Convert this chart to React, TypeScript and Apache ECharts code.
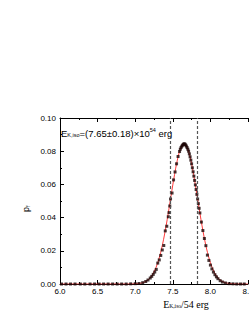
import React, { useEffect, useRef } from "react";
import * as echarts from "echarts";

const curveX = [6.0, 6.1, 6.2, 6.3, 6.4, 6.5, 6.6, 6.7, 6.8, 6.9, 7.0, 7.05, 7.1, 7.15, 7.2, 7.25, 7.3, 7.35, 7.4, 7.45, 7.5, 7.55, 7.6, 7.65, 7.7, 7.75, 7.8, 7.85, 7.9, 7.95, 8.0, 8.05, 8.1, 8.15, 8.2, 8.25, 8.3, 8.4, 8.5];
const curveY = [0, 0, 0, 0, 0, 0, 0, 0, 0, 0, 0.0001, 0.0003, 0.0008, 0.0018, 0.0037, 0.0072, 0.0128, 0.0211, 0.0322, 0.0456, 0.0597, 0.0724, 0.0813, 0.0845, 0.0813, 0.0724, 0.0597, 0.0456, 0.0322, 0.0211, 0.0128, 0.0072, 0.0037, 0.0018, 0.0008, 0.0003, 0.0001, 0, 0];

const pointX = [6.02, 6.08, 6.14, 6.2, 6.27, 6.33, 6.4, 6.46, 6.52, 6.58, 6.64, 6.7, 6.76, 6.82, 6.88, 6.94, 7.0, 7.05, 7.1, 7.14, 7.17, 7.2, 7.22, 7.24, 7.26, 7.28, 7.3, 7.32, 7.34, 7.36, 7.38, 7.4, 7.42, 7.44, 7.45, 7.46, 7.47, 7.49, 7.51, 7.53, 7.55, 7.57, 7.59, 7.6, 7.61, 7.62, 7.63, 7.64, 7.65, 7.66, 7.67, 7.68, 7.69, 7.7, 7.71, 7.72, 7.73, 7.74, 7.75, 7.76, 7.77, 7.78, 7.79, 7.8, 7.81, 7.82, 7.83, 7.84, 7.85, 7.86, 7.88, 7.9, 7.92, 7.94, 7.96, 7.98, 8.0, 8.02, 8.04, 8.06, 8.08, 8.1, 8.13, 8.16, 8.2, 8.25, 8.3, 8.35, 8.4, 8.45];
const pointY = [0, 0, 0, 0, 0, 0, 0, 0, 0, 0, 0, 0, 0, 0, 0, 0.0001, 0.0002, 0.0003, 0.0008, 0.0015, 0.0024, 0.0036, 0.0046, 0.0058, 0.0072, 0.0088, 0.0126, 0.0145, 0.0172, 0.0205, 0.0232, 0.0320, 0.0348, 0.0405, 0.0430, 0.0470, 0.0512, 0.0548, 0.0627, 0.0675, 0.0724, 0.0768, 0.0798, 0.0812, 0.0822, 0.0830, 0.0836, 0.0841, 0.0845, 0.0843, 0.0838, 0.0831, 0.0822, 0.0812, 0.0800, 0.0784, 0.0766, 0.0746, 0.0724, 0.0700, 0.0676, 0.0650, 0.0624, 0.0597, 0.0569, 0.0540, 0.0512, 0.0484, 0.0456, 0.0428, 0.0373, 0.0322, 0.0274, 0.0231, 0.0174, 0.0142, 0.0114, 0.0091, 0.0072, 0.0056, 0.0043, 0.0032, 0.0020, 0.0012, 0.0006, 0.0002, 0.0001, 0, 0, 0];

const xTicks = [6.0, 6.5, 7.0, 7.5, 8.0, 8.5];
const yTicks = [0.0, 0.02, 0.04, 0.06, 0.08, 0.1];
const dashedX = [7.47, 7.83];

export default function App() {
  const ref = useRef<HTMLDivElement>(null);
  useEffect(() => {
    const chart = echarts.init(ref.current!, null, { renderer: "svg" });
    const axisFont = "Liberation Sans";
    chart.setOption({
      animation: false,
      grid: { left: 60, top: 118, right: 1, bottom: 39, containLabel: false, outerBoundsMode: "none" },
      xAxis: [
        {
          type: "value",
          min: 6.0,
          max: 8.5,
          interval: 0.5,
          axisLine: { show: true, lineStyle: { color: "#000", width: 1 } },
          axisTick: { inside: true, length: 4, lineStyle: { color: "#000" } },
          minorTick: { show: true, splitNumber: 2, length: 2, lineStyle: { color: "#000" } },
          splitLine: { show: false },
          axisLabel: {
            color: "#000",
            fontSize: 8,
            fontFamily: axisFont,
            margin: 3,
            hideOverlap: false,
            formatter: (v: number) => (xTicks.includes(v) ? v.toFixed(1) : ""),
          },
        },
        {
          type: "value",
          position: "top",
          min: 6.0,
          max: 8.5,
          interval: 0.5,
          axisLine: { show: true, onZero: false, lineStyle: { color: "#000", width: 1 } },
          axisTick: { inside: true, length: 4, lineStyle: { color: "#000" } },
          minorTick: { show: true, splitNumber: 2, length: 2, lineStyle: { color: "#000" } },
          splitLine: { show: false },
          axisLabel: { show: false },
        },
      ],
      yAxis: {
        type: "value",
        min: 0,
        max: 0.1,
        interval: 0.02,
        axisLine: { show: true, lineStyle: { color: "#000", width: 1 } },
        axisTick: { inside: true, length: 4, lineStyle: { color: "#000" } },
        minorTick: { show: true, splitNumber: 2, length: 2, lineStyle: { color: "#000" } },
        splitLine: { show: false },
        axisLabel: {
          color: "#000",
          fontSize: 8,
          fontFamily: axisFont,
          margin: 4,
          formatter: (v: number) => (yTicks.some((t) => Math.abs(t - v) < 1e-9) ? v.toFixed(2) : ""),
        },
      },
      series: [
        {
          type: "line",
          data: curveX.map((x, i) => [x, curveY[i]]),
          smooth: 0.3,
          showSymbol: false,
          lineStyle: { color: "#ff3b3b", width: 1 },
          z: 2,
          markLine: {
            silent: true,
            symbol: "none",
            label: { show: false },
            lineStyle: { color: "#555", type: [3, 2], width: 1.2 },
            data: dashedX.map((x) => ({ xAxis: x })),
          },
        },
        {
          type: "scatter",
          data: pointX.map((x, i) => [x, pointY[i]]),
          symbol: "rect",
          symbolSize: 3,
          itemStyle: { color: "#1a0505" },
          z: 3,
        },
      ],
      graphic: [
        {
          type: "text",
          x: 61,
          y: 127,
          style: {
            text: "{n|E}{s|K,iso}{n|=(7.65±0.18)×10}{p|54}{n| erg}",
            fill: "#000",
            rich: {
              n: { fontSize: 9.5, fontFamily: axisFont, fill: "#000", verticalAlign: "bottom", lineHeight: 11 },
              s: { fontSize: 5.5, fontFamily: axisFont, fill: "#000", padding: [3, 0, 0, 0], verticalAlign: "bottom", lineHeight: 11 },
              p: { fontSize: 5.5, fontFamily: axisFont, fill: "#000", padding: [0, 0, 5, 0], verticalAlign: "bottom", lineHeight: 11 },
            },
          },
        },
        {
          type: "text",
          x: 21,
          y: 212,
          rotation: Math.PI / 2,
          style: {
            text: "{n|p}{s|f}",
            rich: {
              n: { fontSize: 9, fontFamily: axisFont, fill: "#000", verticalAlign: "bottom" },
              s: { fontSize: 5, fontFamily: axisFont, fill: "#000", padding: [3, 0, 0, 0], verticalAlign: "bottom" },
            },
          },
        },
        {
          type: "text",
          x: 186,
          y: 299,
          style: {
            text: "{n|E}{s|K,iso}{n|/54 erg}",
            align: "center",
            rich: {
              n: { fontSize: 10, fontFamily: "Liberation Serif", fill: "#000", verticalAlign: "bottom" },
              s: { fontSize: 5.5, fontFamily: "Liberation Serif", fill: "#000", padding: [3, 0, 0, 0], verticalAlign: "bottom" },
            },
          },
        },
      ],
    });
    return () => chart.dispose();
  }, []);
  return <div ref={ref} style={{ width: 249, height: 323, position: "absolute", left: 0, top: 0 }} />;
}
